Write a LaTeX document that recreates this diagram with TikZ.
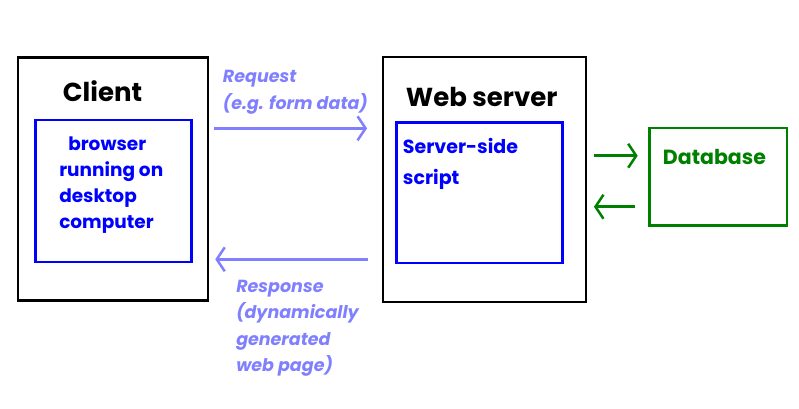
\documentclass[tikz,border=0pt]{standalone}
\usepackage{fontspec}
\setmainfont{Poppins}
\usepackage{xcolor}
\usetikzlibrary{arrows.meta}
\definecolor{msgblue}{RGB}{128,128,255}
\definecolor{dbgreen}{RGB}{0,128,0}
\tikzset{
  flow/.style={x=1pt,y=-1pt,
    line width=2.5pt,
    >={Straight Barb[length=8pt,width=24pt]},
    every node/.style={inner sep=0pt}},
  outerbox/.style={rectangle,draw=black,line width=2.5pt},
  innerbox/.style={rectangle,draw=blue,line width=2.5pt},
  dbbox/.style={rectangle,draw=dbgreen,line width=2.5pt},
  title/.style={font=\fontsize{26}{30}\selectfont\bfseries,anchor=base},
  body/.style={font=\fontsize{18.5}{26}\selectfont\bfseries,align=left,anchor=base west},
  msg/.style={font=\fontsize{17.5}{26.5}\selectfont\bfseries\itshape,text=msgblue,align=left,anchor=base west},
  msgarrow/.style={->,draw=msgblue},
  dbarrow/.style={->,draw=dbgreen}
}
\begin{document}
\begin{tikzpicture}[flow]
    \useasboundingbox (0,0) rectangle (799,408);
      \node[outerbox,minimum width=190pt,minimum height=243.4pt] (client) at (113,179) {};
      \node[innerbox,minimum width=156pt,minimum height=142pt] (browser) at (113.6,190.8) {};
      \node[outerbox,minimum width=203.4pt,minimum height=244.8pt] (server) at (484.5,179.6) {};
      \node[innerbox,minimum width=166pt,minimum height=140.3pt] (script) at (479.5,192.7) {};
      \node[dbbox,minimum width=137.7pt,minimum height=97.7pt] (db) at (718.3,176.7) {};
      % texts (base = last line)
      \node[title] (clientname) at (102.5,101.7) {Client};
      \node[title] (servername) at (481.7,106.7) {Web server};
      \node[body,text=blue] (browsertext) at (58,228) {\hspace*{9pt}browser\\running on\\desktop\\computer};
      \node[body,text=blue,font=\fontsize{19}{26}\selectfont\bfseries] (scripttext) at (401.7,184.3) {Server-side\\[5pt]script};
      \node[body,text=dbgreen,font=\fontsize{20.5}{26}\selectfont\bfseries] (dbtext) at (661.7,164.3) {Database};
      \node[msg] (reqtext) at (221.7,109.3) {Request\\(e.g. form data)};
      \node[msg] (resptext) at (235,371.7) {Response\\(dynamically\\generated\\web page)};
      % connectors
      \draw[msgarrow,shorten <=5pt,shorten >=14.5pt] (client.east |- 0,128.3) -- (server.west |- 0,128.3);
      \draw[msgarrow,shorten <=13.5pt,shorten >=6pt] (server.west |- 0,259.3) -- (client.east |- 0,259.3);
      \draw[dbarrow,shorten <=6.5pt,shorten >=10.5pt] (server.east |- 0,155.7) -- (db.west |- 0,155.7);
      \draw[dbarrow,shorten <=13pt,shorten >=6.5pt] (db.west |- 0,206.7) -- (server.east |- 0,206.7);
    \end{tikzpicture}
\end{document}
